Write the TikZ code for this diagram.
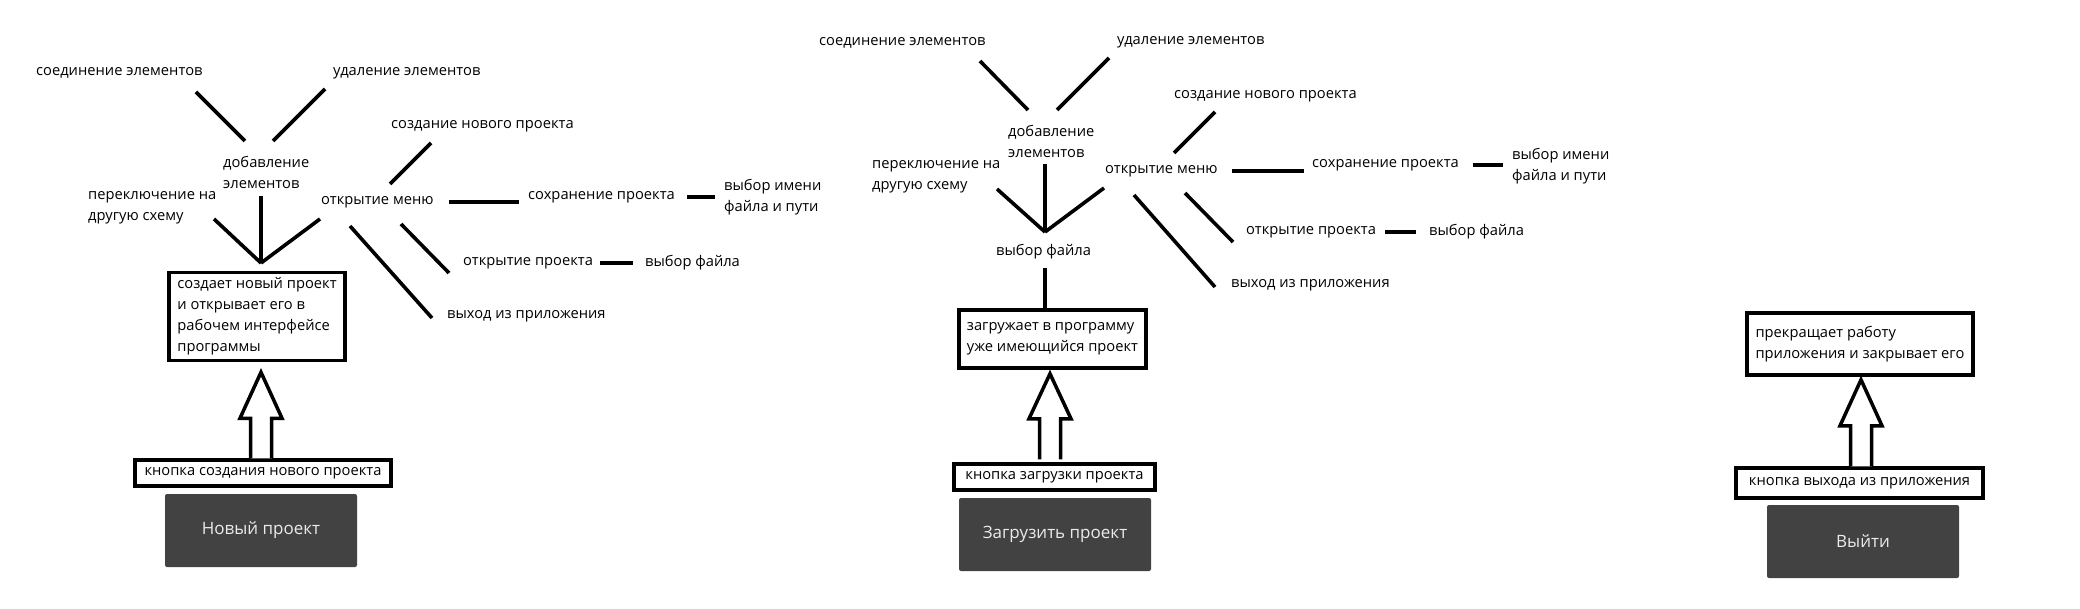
\documentclass[tikz,border=0pt]{standalone}
\usepackage{fontspec}
\setmainfont{Open Sans}
\usetikzlibrary{calc}
\begin{document}
\begin{tikzpicture}[x=1pt,y=-1pt,
  lbl/.style={anchor=west,inner sep=0pt,font=\fontsize{14.7}{21}\selectfont,align=left},
  conn/.style={line width=3.6pt},
  descbox/.style={draw,line width=3.5pt,inner sep=0pt,font=\fontsize{14.7}{21}\selectfont,align=left},
  btnbox/.style={fill=black!74,rounded corners=2pt,text=white!92!black,font=\fontsize{17}{20}\selectfont,minimum width=192pt,minimum height=73pt,inner sep=0pt},
  hollow/.style={draw,line width=3.5pt,line join=miter,fill=white}
]
\useasboundingbox (0,0) rectangle (2080,609);

% ---------------- Panel 1 ----------------
\node[lbl] (a1) at (36,73) {соединение элементов};
\node[lbl] (b1) at (333,73) {удаление элементов};
\node[lbl] (c1) at (223,172) {добавление\\элементов};
\node[lbl] (d1) at (88,208) {переключение на\\другую схему};
\node[lbl] (m1) at (321,202) {открытие меню};
\node[lbl] (n1) at (391,126) {создание нового проекта};
\node[lbl] (s1) at (528,197) {сохранение проекта};
\node[lbl] (f1) at (724,197) {выбор имени\\файла и пути};
\node[lbl] (o1) at (463,263) {открытие проекта};
\node[lbl] (g1) at (645,263) {выбор файла};
\node[lbl] (e1) at (447,316) {выход из приложения};
\node[descbox,minimum width=176pt,minimum height=88pt] (box1) at (257,316.5) {создает новый проект\\и открывает его в\\рабочем интерфейсе\\программы};
\node[descbox,minimum width=256pt,minimum height=26pt] (lbl1) at (263,473) {кнопка создания нового проекта};
\node[btnbox] (btn1) at (261,530.5) {Новый проект};
\coordinate (j1) at (261,263);

\draw[conn] ($(a1.west)+(160,19)$) -- ($(c1.west)+(22,-31)$);
\draw[conn] ($(b1.west)+(-8,16)$) -- ($(c1.west)+(50,-31)$);
\draw[conn] ($(c1.west)+(38,24)$) -- (j1);
\draw[conn] ($(d1.west)+(126,11)$) -- (j1);
\draw[conn] ($(m1.west)+(-1,17)$) -- (j1);
\draw[conn] ($(m1.west)+(69,-18)$) -- ($(n1.west)+(40,17)$);
\draw[conn] ($(m1.west)+(128,0)$) -- ($(s1.west)+(-9,5)$);
\draw[conn] ($(s1.west)+(159,0)$) -- ($(f1.west)+(-9,0)$);
\draw[conn] ($(m1.west)+(80,22)$) -- ($(o1.west)+(-14,10)$);
\draw[conn] ($(o1.west)+(137,0)$) -- ($(g1.west)+(-12,0)$);
\draw[conn] ($(m1.west)+(29,24)$) -- ($(e1.west)+(-15,2)$);

\coordinate (ab1) at ($(lbl1.north)+(-2,0)$);
\coordinate (at1) at ($(box1.south -| ab1)+(0,10)$);
\draw[hollow] ($(ab1)+(-10.5,0)$) -- ($(at1)+(-10.5,46)$) -- ($(at1)+(-21,46)$) -- (at1)
  -- ($(at1)+(21,46)$) -- ($(at1)+(10.5,46)$) -- ($(ab1)+(10.5,0)$);

% ---------------- Panel 2 ----------------
\node[lbl] (a2) at (819,43) {соединение элементов};
\node[lbl] (b2) at (1117,42) {удаление элементов};
\node[lbl] (c2) at (1008,141.5) {добавление\\элементов};
\node[lbl] (d2) at (872,176.5) {переключение на\\другую схему};
\node[lbl] (v2) at (996,252) {выбор файла};
\node[lbl] (m2) at (1105,171) {открытие меню};
\node[lbl] (n2) at (1174,96) {создание нового проекта};
\node[lbl] (s2) at (1312,165) {сохранение проекта};
\node[lbl] (f2) at (1512,166.5) {выбор имени\\файла и пути};
\node[lbl] (o2) at (1246,232) {открытие проекта};
\node[lbl] (g2) at (1429,232) {выбор файла};
\node[lbl] (e2) at (1231,285) {выход из приложения};
\node[descbox,minimum width=187pt,minimum height=58pt] (box2) at (1052.5,339) {загружает в программу\\уже имеющийся проект};
\node[descbox,minimum width=201pt,minimum height=26pt] (lbl2) at (1054.5,477) {кнопка загрузки проекта};
\node[btnbox] (btn2) at (1055,534.5) {Загрузить проект};
\coordinate (j2) at (1045,232);

\draw[conn] ($(a2.west)+(161,18)$) -- ($(c2.west)+(20,-31.5)$);
\draw[conn] ($(b2.west)+(-8,16)$) -- ($(c2.west)+(49,-31.5)$);
\draw[conn] ($(c2.west)+(37,22.5)$) -- (j2);
\draw[conn] ($(d2.west)+(125,12.5)$) -- (j2);
\draw[conn] ($(m2.west)+(-1,17)$) -- (j2);
\coordinate (vs2) at ($(v2.west)+(49,16)$);
\draw[conn] (vs2) -- (vs2 |- box2.north);
\draw[conn] ($(m2.west)+(69,-18)$) -- ($(n2.west)+(41,16)$);
\draw[conn] ($(m2.west)+(127,0)$) -- ($(s2.west)+(-8,6)$);
\draw[conn] ($(s2.west)+(161,0)$) -- ($(f2.west)+(-9,-1.5)$);
\draw[conn] ($(m2.west)+(80,22)$) -- ($(o2.west)+(-13,10)$);
\draw[conn] ($(o2.west)+(139,0)$) -- ($(g2.west)+(-13,0)$);
\draw[conn] ($(m2.west)+(29,24)$) -- ($(e2.west)+(-16,2)$);

\coordinate (ab2) at ($(lbl2.north)+(-4.5,-3)$);
\coordinate (at2) at ($(box2.south -| ab2)+(0,4)$);
\draw[hollow] ($(ab2)+(-10.5,0)$) -- ($(at2)+(-10.5,45)$) -- ($(at2)+(-21,45)$) -- (at2)
  -- ($(at2)+(21,45)$) -- ($(at2)+(10.5,45)$) -- ($(ab2)+(10.5,0)$);

% ---------------- Panel 3 ----------------
\node[descbox,minimum width=226pt,minimum height=62pt] (box3) at (1860,344) {прекращает работу\\приложения и закрывает его};
\node[descbox,minimum width=247pt,minimum height=30pt] (lbl3) at (1859.5,483) {кнопка выхода из приложения};
\node[btnbox] (btn3) at (1863,541.5) {Выйти};

\coordinate (ab3) at ($(lbl3.north)+(1.5,0)$);
\coordinate (at3) at ($(box3.south -| ab3)+(0,3)$);
\draw[hollow] ($(ab3)+(-10.5,0)$) -- ($(at3)+(-10.5,46)$) -- ($(at3)+(-21,46)$) -- (at3)
  -- ($(at3)+(21,46)$) -- ($(at3)+(10.5,46)$) -- ($(ab3)+(10.5,0)$);
\end{tikzpicture}
\end{document}
